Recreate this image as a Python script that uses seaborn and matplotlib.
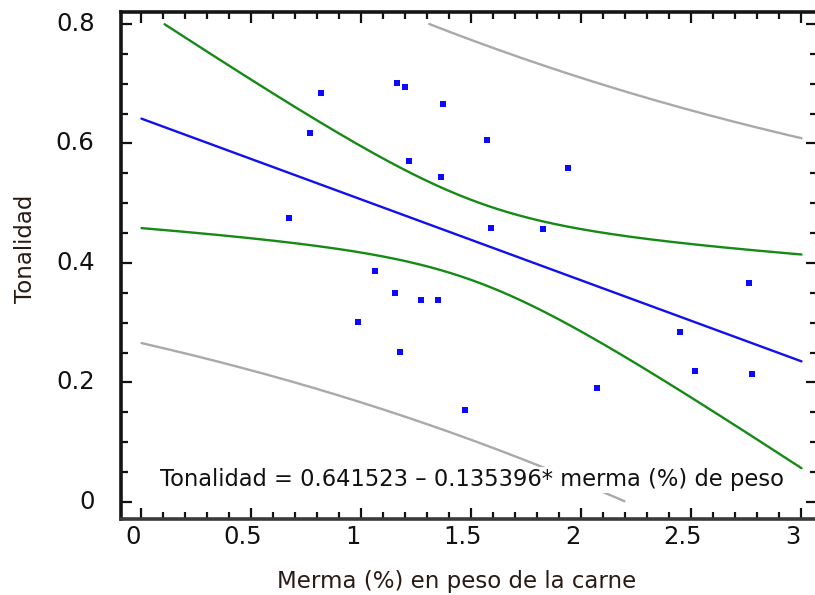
import numpy as np
import pandas as pd
import matplotlib
matplotlib.use("Agg")
import matplotlib.pyplot as plt
import matplotlib.transforms as mtransforms
from matplotlib.ticker import MultipleLocator
import seaborn as sns

# ---- data ----
merma = [0.67, 0.766, 0.816, 1.16, 1.198, 1.369, 1.57, 1.216, 1.361, 1.587,
         1.825, 1.939, 1.061, 1.152, 1.269, 1.346, 0.984, 1.175, 1.47, 2.448,
         2.516, 2.774, 2.761, 2.07]
tonalidad = [0.475, 0.618, 0.685, 0.701, 0.695, 0.666, 0.606, 0.571, 0.544, 0.459,
             0.457, 0.559, 0.387, 0.350, 0.338, 0.338, 0.301, 0.251, 0.154, 0.285,
             0.219, 0.214, 0.367, 0.191]
intercept = 0.641523
slope = -0.135396
t_crit = 2.074  # Student t, 95 %, df = n - 2 = 22
x_ticks = [0, 0.5, 1, 1.5, 2, 2.5, 3]
x_tick_labels = ["0", "0.5", "1", "1.5", "2", "2.5", "3"]
y_ticks = [0, 0.2, 0.4, 0.6, 0.8]
y_tick_labels = ["0", "0.2", "0.4", "0.6", "0.8"]
equation = "Tonalidad = 0.641523 \u2013 0.135396* merma (%) de peso"
xlabel = "Merma (%) en peso de la carne"
ylabel = "Tonalidad"

# ---- regression bands ----
x = np.asarray(merma)
y = np.asarray(tonalidad)
n = len(x)
xbar = x.mean()
sxx = ((x - xbar) ** 2).sum()
resid = y - (intercept + slope * x)
s = np.sqrt((resid ** 2).sum() / (n - 2))
grid = np.linspace(0, 3, 400)
fit = intercept + slope * grid
se_mean = s * np.sqrt(1 / n + (grid - xbar) ** 2 / sxx)
se_pred = s * np.sqrt(1 + 1 / n + (grid - xbar) ** 2 / sxx)

curves = {
    "fit": (fit, "#1010f0"),
    "conf_hi": (fit + t_crit * se_mean, "#168a16"),
    "conf_lo": (fit - t_crit * se_mean, "#168a16"),
    "pred_hi": (fit + t_crit * se_pred, "#a9a9a9"),
    "pred_lo": (fit - t_crit * se_pred, "#a9a9a9"),
}

sns.set_style("ticks")
plt.rcParams["font.family"] = ["DejaVu Sans"]

fig = plt.figure(figsize=(8.15, 5.95), dpi=100)
ax = fig.add_axes([121 / 815, 1 - 519 / 595, (817 - 121) / 815, (519 - 12) / 595])

for name, (vals, col) in curves.items():
    d = pd.DataFrame({"x": grid, "y": vals})
    d = d[(d["y"] >= 0) & (d["y"] <= 0.8)]
    sns.lineplot(data=d, x="x", y="y", ax=ax, color=col, lw=1.7, sort=True,
                 estimator=None, zorder=2)

sns.scatterplot(x=merma, y=tonalidad, ax=ax, marker="s", s=16, color="#0a0aff",
                linewidth=0, zorder=3)

ax.text(0.085, 0.037, equation, fontsize=16.3, ha="left", va="center", color="#111111",
        bbox=dict(facecolor="white", edgecolor="none", pad=1.0), zorder=4)

ax.set_xlim(-0.093, (817 - 141.5) / 220)
ax.set_ylim(-0.0285, 0.82)
ax.set_xticks(x_ticks)
ax.set_xticklabels(x_tick_labels)
ax.set_yticks(y_ticks)
ax.set_yticklabels(y_tick_labels)
ax.xaxis.set_minor_locator(MultipleLocator(0.1))
ax.yaxis.set_minor_locator(MultipleLocator(0.05))
ax.tick_params(which="both", direction="in", top=True, right=True, color="#111111")
ax.tick_params(which="major", length=8, width=1.6)
ax.tick_params(which="minor", length=5, width=1.6)
ax.tick_params(axis="x", which="major", labelsize=17.5, pad=4, labelcolor="#111111")
ax.tick_params(axis="y", which="major", labelsize=17.5, pad=19, labelcolor="#111111")
for sp in ax.spines.values():
    sp.set_linewidth(2.6)
    sp.set_color("#151515")
ax.spines["bottom"].set_color("#3a3a3a")

ax.set_xlabel(xlabel, fontsize=16.5, color="#2a1a14")
ax.set_ylabel(ylabel, fontsize=16.5, color="#2a1a14")
ax.xaxis.set_label_coords((456.5 - 121) / 696, -0.100)
ax.yaxis.set_label_coords((37 - 121) / 696, 0.532)

dx = mtransforms.ScaledTranslation(-8.5 / 100, 0, fig.dpi_scale_trans)
for lab in ax.get_xticklabels():
    lab.set_transform(lab.get_transform() + dx)
dy = mtransforms.ScaledTranslation(0, 2.5 / 100, fig.dpi_scale_trans)
for lab in ax.get_yticklabels():
    lab.set_transform(lab.get_transform() + dy)

fig.savefig("out.png", dpi=100, facecolor="white")
